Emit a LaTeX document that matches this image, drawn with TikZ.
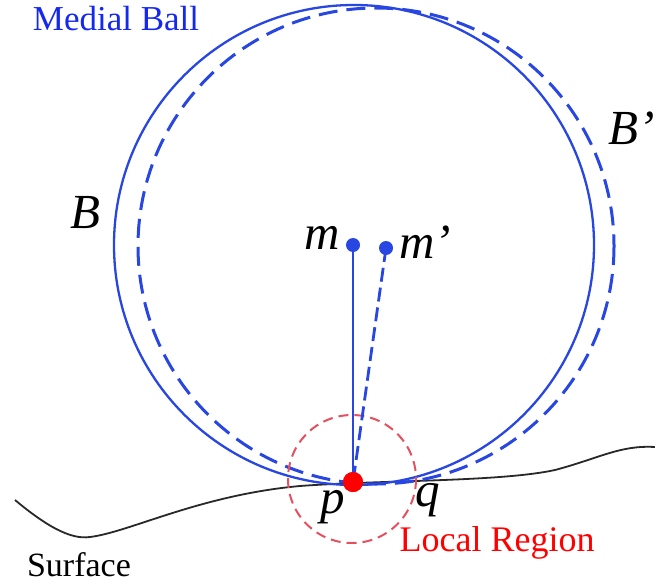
\documentclass[tikz,border=0pt]{standalone}
\usepackage{fontspec}
\setmainfont{Liberation Serif}
\definecolor{ballblue}{RGB}{40,70,225}
\definecolor{txtblue}{RGB}{20,40,240}
\definecolor{regred}{RGB}{228,80,95}
\definecolor{surf}{RGB}{40,40,40}
\begin{document}
\begin{tikzpicture}[x=1pt,y=-1pt,
  solidball/.style={draw=ballblue,line width=2.3pt},
  dashball/.style={draw=ballblue,line width=3pt,dash pattern=on 19pt off 9pt},
  dotnode/.style={circle,fill=ballblue,inner sep=0pt,minimum size=14pt},
  pnode/.style={circle,fill=red,inner sep=0pt,minimum size=20pt},
  italab/.style={font=\fontsize{49}{49}\selectfont\itshape,inner sep=0pt},
  plainlab/.style={font=\fontsize{34}{34}\selectfont,inner sep=0pt}]
\useasboundingbox (0,0) rectangle (655,583);
% surface
\draw[surf,line width=1.8pt] (15,500) .. controls (45,525) and (70,540) .. (90,537)
  .. controls (130,532) and (200,495) .. (300,486)
  .. controls (380,480) and (500,482) .. (555,470)
  .. controls (600,458) and (620,445) .. (655,447);
% balls
\draw[solidball] (354,245) circle (240);
\draw[dashball] (376,246) circle (238);
% local region
\draw[regred,line width=2pt,dash pattern=on 10pt off 6pt] (352,479) circle (64);
% points
\node[dotnode] (m) at (353,245) {};
\node[dotnode] (mp) at (386,248) {};
\node[pnode] (p) at (353,482) {};
\draw[ballblue,line width=2.4pt] (m.center) -- (p.center);
\draw[ballblue,line width=2.8pt,dash pattern=on 14pt off 6pt] (mp.center) -- (p.center);
\node[pnode] at (p) {};
% labels
\node[plainlab,text=txtblue,font=\fontsize{35}{35}\selectfont] (mb) at (116,19) {Medial Ball};
\node[italab] (B) at (85,213) {B};
\node[italab] (Bp) at (632,128) {B’};
\node[italab] (ml) at (322,238) {m};
\node[italab] (mpl) at (425,242) {m’};
\node[italab] (pl) at (333,507) {p};
\node[italab] (ql) at (428,500) {q};
\node[plainlab] (sf) at (79,565) {Surface};
\node[plainlab,text=red,font=\fontsize{36}{36}\selectfont] (lr) at (497,543) {Local Region};
\end{tikzpicture}
\end{document}
